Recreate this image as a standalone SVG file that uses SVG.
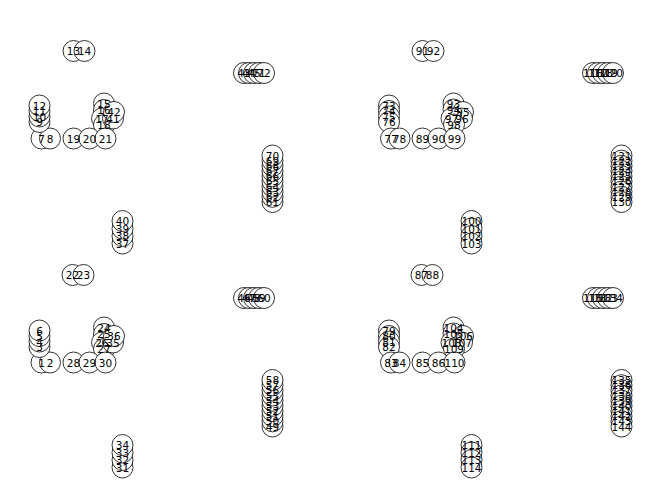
<svg xmlns="http://www.w3.org/2000/svg" width="660" height="499" viewBox="0 0 660 499">
<style>
.node circle{fill:#fff;stroke:#000;stroke-width:0.8}
.lbl text{font-family:"DejaVu Sans",sans-serif;font-size:10.5px;fill:#000;text-anchor:middle;dominant-baseline:central}
</style>
<rect width="660" height="499" fill="#fff"/>
<g id="connectors"/>
<g id="nodes" class="node">
<g id="node-1"><circle cx="41.5" cy="362.5" r="10.5"/></g>
<g id="node-2"><circle cx="50" cy="362.5" r="10.5"/></g>
<g id="node-3"><circle cx="39.5" cy="347" r="10.5"/></g>
<g id="node-4"><circle cx="39.5" cy="341.5" r="10.5"/></g>
<g id="node-5"><circle cx="39.5" cy="336" r="10.5"/></g>
<g id="node-6"><circle cx="39.5" cy="330.5" r="10.5"/></g>
<g id="node-7"><circle cx="41.5" cy="138.5" r="10.5"/></g>
<g id="node-8"><circle cx="50" cy="138.5" r="10.5"/></g>
<g id="node-9"><circle cx="39.5" cy="122" r="10.5"/></g>
<g id="node-10"><circle cx="39.5" cy="116.5" r="10.5"/></g>
<g id="node-11"><circle cx="39.5" cy="111" r="10.5"/></g>
<g id="node-12"><circle cx="39.5" cy="105.5" r="10.5"/></g>
<g id="node-13"><circle cx="73.5" cy="51" r="10.5"/></g>
<g id="node-14"><circle cx="84.5" cy="51" r="10.5"/></g>
<g id="node-15"><circle cx="104" cy="103.5" r="10.5"/></g>
<g id="node-16"><circle cx="104" cy="110" r="10.5"/></g>
<g id="node-17"><circle cx="102" cy="118.5" r="10.5"/></g>
<g id="node-18"><circle cx="104" cy="125" r="10.5"/></g>
<g id="node-19"><circle cx="73.5" cy="138.5" r="10.5"/></g>
<g id="node-20"><circle cx="89.5" cy="138.5" r="10.5"/></g>
<g id="node-21"><circle cx="105.5" cy="138.5" r="10.5"/></g>
<g id="node-22"><circle cx="72.5" cy="275" r="10.5"/></g>
<g id="node-23"><circle cx="83.5" cy="275" r="10.5"/></g>
<g id="node-24"><circle cx="104" cy="327.5" r="10.5"/></g>
<g id="node-25"><circle cx="104" cy="334" r="10.5"/></g>
<g id="node-26"><circle cx="102" cy="342.5" r="10.5"/></g>
<g id="node-27"><circle cx="104" cy="349" r="10.5"/></g>
<g id="node-28"><circle cx="73.5" cy="362.5" r="10.5"/></g>
<g id="node-29"><circle cx="89.5" cy="362.5" r="10.5"/></g>
<g id="node-30"><circle cx="105.5" cy="362.5" r="10.5"/></g>
<g id="node-31"><circle cx="122.5" cy="467.5" r="10.5"/></g>
<g id="node-32"><circle cx="122.5" cy="460" r="10.5"/></g>
<g id="node-33"><circle cx="122.5" cy="452.5" r="10.5"/></g>
<g id="node-34"><circle cx="122.5" cy="445" r="10.5"/></g>
<g id="node-35"><circle cx="113" cy="342.5" r="10.5"/></g>
<g id="node-36"><circle cx="114" cy="336" r="10.5"/></g>
<g id="node-37"><circle cx="122.5" cy="243.5" r="10.5"/></g>
<g id="node-38"><circle cx="122.5" cy="236" r="10.5"/></g>
<g id="node-39"><circle cx="122.5" cy="228.5" r="10.5"/></g>
<g id="node-40"><circle cx="122.5" cy="221" r="10.5"/></g>
<g id="node-41"><circle cx="113" cy="118.5" r="10.5"/></g>
<g id="node-42"><circle cx="114" cy="112" r="10.5"/></g>
<g id="node-43"><circle cx="244" cy="73" r="10.5"/></g>
<g id="node-44"><circle cx="249" cy="73" r="10.5"/></g>
<g id="node-45"><circle cx="254" cy="73" r="10.5"/></g>
<g id="node-46"><circle cx="244" cy="298" r="10.5"/></g>
<g id="node-47"><circle cx="249" cy="298" r="10.5"/></g>
<g id="node-48"><circle cx="254" cy="298" r="10.5"/></g>
<g id="node-49"><circle cx="272.5" cy="426.5" r="10.5"/></g>
<g id="node-50"><circle cx="272.5" cy="421.3" r="10.5"/></g>
<g id="node-51"><circle cx="272.5" cy="416.2" r="10.5"/></g>
<g id="node-52"><circle cx="272.5" cy="411" r="10.5"/></g>
<g id="node-53"><circle cx="272.5" cy="405.8" r="10.5"/></g>
<g id="node-54"><circle cx="272.5" cy="400.7" r="10.5"/></g>
<g id="node-55"><circle cx="272.5" cy="395.5" r="10.5"/></g>
<g id="node-56"><circle cx="272.5" cy="390.3" r="10.5"/></g>
<g id="node-57"><circle cx="272.5" cy="385.2" r="10.5"/></g>
<g id="node-58"><circle cx="272.5" cy="380" r="10.5"/></g>
<g id="node-59"><circle cx="259" cy="298" r="10.5"/></g>
<g id="node-60"><circle cx="264" cy="298" r="10.5"/></g>
<g id="node-61"><circle cx="272.5" cy="202" r="10.5"/></g>
<g id="node-62"><circle cx="272.5" cy="196.8" r="10.5"/></g>
<g id="node-63"><circle cx="272.5" cy="191.7" r="10.5"/></g>
<g id="node-64"><circle cx="272.5" cy="186.5" r="10.5"/></g>
<g id="node-65"><circle cx="272.5" cy="181.3" r="10.5"/></g>
<g id="node-66"><circle cx="272.5" cy="176.2" r="10.5"/></g>
<g id="node-67"><circle cx="272.5" cy="171" r="10.5"/></g>
<g id="node-68"><circle cx="272.5" cy="165.8" r="10.5"/></g>
<g id="node-69"><circle cx="272.5" cy="160.7" r="10.5"/></g>
<g id="node-70"><circle cx="272.5" cy="155.5" r="10.5"/></g>
<g id="node-71"><circle cx="259" cy="73" r="10.5"/></g>
<g id="node-72"><circle cx="264" cy="73" r="10.5"/></g>
<g id="node-73"><circle cx="389" cy="105.5" r="10.5"/></g>
<g id="node-74"><circle cx="389" cy="111" r="10.5"/></g>
<g id="node-75"><circle cx="389" cy="116.5" r="10.5"/></g>
<g id="node-76"><circle cx="389" cy="122" r="10.5"/></g>
<g id="node-77"><circle cx="391" cy="138.5" r="10.5"/></g>
<g id="node-78"><circle cx="399.5" cy="138.5" r="10.5"/></g>
<g id="node-79"><circle cx="389" cy="330.5" r="10.5"/></g>
<g id="node-80"><circle cx="389" cy="336" r="10.5"/></g>
<g id="node-81"><circle cx="389" cy="341.5" r="10.5"/></g>
<g id="node-82"><circle cx="389" cy="347" r="10.5"/></g>
<g id="node-83"><circle cx="391" cy="362.5" r="10.5"/></g>
<g id="node-84"><circle cx="399.5" cy="362.5" r="10.5"/></g>
<g id="node-85"><circle cx="422.5" cy="362.5" r="10.5"/></g>
<g id="node-86"><circle cx="438.5" cy="362.5" r="10.5"/></g>
<g id="node-87"><circle cx="421.5" cy="275" r="10.5"/></g>
<g id="node-88"><circle cx="432.5" cy="275" r="10.5"/></g>
<g id="node-89"><circle cx="422.5" cy="138.5" r="10.5"/></g>
<g id="node-90"><circle cx="438.5" cy="138.5" r="10.5"/></g>
<g id="node-91"><circle cx="422.5" cy="51" r="10.5"/></g>
<g id="node-92"><circle cx="433.5" cy="51" r="10.5"/></g>
<g id="node-93"><circle cx="453.5" cy="103.5" r="10.5"/></g>
<g id="node-94"><circle cx="453.5" cy="109.5" r="10.5"/></g>
<g id="node-95"><circle cx="463" cy="112" r="10.5"/></g>
<g id="node-96"><circle cx="462" cy="118.5" r="10.5"/></g>
<g id="node-97"><circle cx="451.5" cy="118.5" r="10.5"/></g>
<g id="node-98"><circle cx="454" cy="124.5" r="10.5"/></g>
<g id="node-99"><circle cx="454.5" cy="138.5" r="10.5"/></g>
<g id="node-100"><circle cx="471.5" cy="221" r="10.5"/></g>
<g id="node-101"><circle cx="471.5" cy="228.5" r="10.5"/></g>
<g id="node-102"><circle cx="471.5" cy="236" r="10.5"/></g>
<g id="node-103"><circle cx="471.5" cy="243.5" r="10.5"/></g>
<g id="node-104"><circle cx="453.5" cy="327.5" r="10.5"/></g>
<g id="node-105"><circle cx="453.5" cy="333.5" r="10.5"/></g>
<g id="node-106"><circle cx="463" cy="336" r="10.5"/></g>
<g id="node-107"><circle cx="462" cy="342.5" r="10.5"/></g>
<g id="node-108"><circle cx="451.5" cy="342.5" r="10.5"/></g>
<g id="node-109"><circle cx="454" cy="348.5" r="10.5"/></g>
<g id="node-110"><circle cx="454.5" cy="362.5" r="10.5"/></g>
<g id="node-111"><circle cx="471.5" cy="445" r="10.5"/></g>
<g id="node-112"><circle cx="471.5" cy="452.5" r="10.5"/></g>
<g id="node-113"><circle cx="471.5" cy="460" r="10.5"/></g>
<g id="node-114"><circle cx="471.5" cy="467.5" r="10.5"/></g>
<g id="node-115"><circle cx="593" cy="298" r="10.5"/></g>
<g id="node-116"><circle cx="593" cy="73" r="10.5"/></g>
<g id="node-117"><circle cx="598" cy="73" r="10.5"/></g>
<g id="node-118"><circle cx="603" cy="73" r="10.5"/></g>
<g id="node-119"><circle cx="608" cy="73" r="10.5"/></g>
<g id="node-120"><circle cx="613" cy="73" r="10.5"/></g>
<g id="node-121"><circle cx="621.5" cy="155.5" r="10.5"/></g>
<g id="node-122"><circle cx="621.5" cy="160.7" r="10.5"/></g>
<g id="node-123"><circle cx="621.5" cy="165.8" r="10.5"/></g>
<g id="node-124"><circle cx="621.5" cy="171" r="10.5"/></g>
<g id="node-125"><circle cx="621.5" cy="176.2" r="10.5"/></g>
<g id="node-126"><circle cx="621.5" cy="181.3" r="10.5"/></g>
<g id="node-127"><circle cx="621.5" cy="186.5" r="10.5"/></g>
<g id="node-128"><circle cx="621.5" cy="191.7" r="10.5"/></g>
<g id="node-129"><circle cx="621.5" cy="196.8" r="10.5"/></g>
<g id="node-130"><circle cx="621.5" cy="202" r="10.5"/></g>
<g id="node-131"><circle cx="598" cy="298" r="10.5"/></g>
<g id="node-132"><circle cx="603" cy="298" r="10.5"/></g>
<g id="node-133"><circle cx="608" cy="298" r="10.5"/></g>
<g id="node-134"><circle cx="613" cy="298" r="10.5"/></g>
<g id="node-135"><circle cx="621.5" cy="380" r="10.5"/></g>
<g id="node-136"><circle cx="621.5" cy="385.2" r="10.5"/></g>
<g id="node-137"><circle cx="621.5" cy="390.3" r="10.5"/></g>
<g id="node-138"><circle cx="621.5" cy="395.5" r="10.5"/></g>
<g id="node-139"><circle cx="621.5" cy="400.7" r="10.5"/></g>
<g id="node-140"><circle cx="621.5" cy="405.8" r="10.5"/></g>
<g id="node-141"><circle cx="621.5" cy="411" r="10.5"/></g>
<g id="node-142"><circle cx="621.5" cy="416.2" r="10.5"/></g>
<g id="node-143"><circle cx="621.5" cy="421.3" r="10.5"/></g>
<g id="node-144"><circle cx="621.5" cy="426.5" r="10.5"/></g>
</g>
<g id="labels" class="lbl">
<text x="41.5" y="362.5">1</text>
<text x="50" y="362.5">2</text>
<text x="39.5" y="347">3</text>
<text x="39.5" y="341.5">4</text>
<text x="39.5" y="336">5</text>
<text x="39.5" y="330.5">6</text>
<text x="41.5" y="138.5">7</text>
<text x="50" y="138.5">8</text>
<text x="39.5" y="122">9</text>
<text x="39.5" y="116.5">10</text>
<text x="39.5" y="111">11</text>
<text x="39.5" y="105.5">12</text>
<text x="73.5" y="51">13</text>
<text x="84.5" y="51">14</text>
<text x="104" y="103.5">15</text>
<text x="104" y="110">16</text>
<text x="102" y="118.5">17</text>
<text x="104" y="125">18</text>
<text x="73.5" y="138.5">19</text>
<text x="89.5" y="138.5">20</text>
<text x="105.5" y="138.5">21</text>
<text x="72.5" y="275">22</text>
<text x="83.5" y="275">23</text>
<text x="104" y="327.5">24</text>
<text x="104" y="334">25</text>
<text x="102" y="342.5">26</text>
<text x="104" y="349">27</text>
<text x="73.5" y="362.5">28</text>
<text x="89.5" y="362.5">29</text>
<text x="105.5" y="362.5">30</text>
<text x="122.5" y="467.5">31</text>
<text x="122.5" y="460">32</text>
<text x="122.5" y="452.5">33</text>
<text x="122.5" y="445">34</text>
<text x="113" y="342.5">35</text>
<text x="114" y="336">36</text>
<text x="122.5" y="243.5">37</text>
<text x="122.5" y="236">38</text>
<text x="122.5" y="228.5">39</text>
<text x="122.5" y="221">40</text>
<text x="113" y="118.5">41</text>
<text x="114" y="112">42</text>
<text x="244" y="73">43</text>
<text x="249" y="73">44</text>
<text x="254" y="73">45</text>
<text x="244" y="298">46</text>
<text x="249" y="298">47</text>
<text x="254" y="298">48</text>
<text x="272.5" y="426.5">49</text>
<text x="272.5" y="421.3">50</text>
<text x="272.5" y="416.2">51</text>
<text x="272.5" y="411">52</text>
<text x="272.5" y="405.8">53</text>
<text x="272.5" y="400.7">54</text>
<text x="272.5" y="395.5">55</text>
<text x="272.5" y="390.3">56</text>
<text x="272.5" y="385.2">57</text>
<text x="272.5" y="380">58</text>
<text x="259" y="298">59</text>
<text x="264" y="298">60</text>
<text x="272.5" y="202">61</text>
<text x="272.5" y="196.8">62</text>
<text x="272.5" y="191.7">63</text>
<text x="272.5" y="186.5">64</text>
<text x="272.5" y="181.3">65</text>
<text x="272.5" y="176.2">66</text>
<text x="272.5" y="171">67</text>
<text x="272.5" y="165.8">68</text>
<text x="272.5" y="160.7">69</text>
<text x="272.5" y="155.5">70</text>
<text x="259" y="73">71</text>
<text x="264" y="73">72</text>
<text x="389" y="105.5">73</text>
<text x="389" y="111">74</text>
<text x="389" y="116.5">75</text>
<text x="389" y="122">76</text>
<text x="391" y="138.5">77</text>
<text x="399.5" y="138.5">78</text>
<text x="389" y="330.5">79</text>
<text x="389" y="336">80</text>
<text x="389" y="341.5">81</text>
<text x="389" y="347">82</text>
<text x="391" y="362.5">83</text>
<text x="399.5" y="362.5">84</text>
<text x="422.5" y="362.5">85</text>
<text x="438.5" y="362.5">86</text>
<text x="421.5" y="275">87</text>
<text x="432.5" y="275">88</text>
<text x="422.5" y="138.5">89</text>
<text x="438.5" y="138.5">90</text>
<text x="422.5" y="51">91</text>
<text x="433.5" y="51">92</text>
<text x="453.5" y="103.5">93</text>
<text x="453.5" y="109.5">94</text>
<text x="463" y="112">95</text>
<text x="462" y="118.5">96</text>
<text x="451.5" y="118.5">97</text>
<text x="454" y="124.5">98</text>
<text x="454.5" y="138.5">99</text>
<text x="471.5" y="221">100</text>
<text x="471.5" y="228.5">101</text>
<text x="471.5" y="236">102</text>
<text x="471.5" y="243.5">103</text>
<text x="453.5" y="327.5">104</text>
<text x="453.5" y="333.5">105</text>
<text x="463" y="336">106</text>
<text x="462" y="342.5">107</text>
<text x="451.5" y="342.5">108</text>
<text x="454" y="348.5">109</text>
<text x="454.5" y="362.5">110</text>
<text x="471.5" y="445">111</text>
<text x="471.5" y="452.5">112</text>
<text x="471.5" y="460">113</text>
<text x="471.5" y="467.5">114</text>
<text x="593" y="298">115</text>
<text x="593" y="73">116</text>
<text x="598" y="73">117</text>
<text x="603" y="73">118</text>
<text x="608" y="73">119</text>
<text x="613" y="73">120</text>
<text x="621.5" y="155.5">121</text>
<text x="621.5" y="160.7">122</text>
<text x="621.5" y="165.8">123</text>
<text x="621.5" y="171">124</text>
<text x="621.5" y="176.2">125</text>
<text x="621.5" y="181.3">126</text>
<text x="621.5" y="186.5">127</text>
<text x="621.5" y="191.7">128</text>
<text x="621.5" y="196.8">129</text>
<text x="621.5" y="202">130</text>
<text x="598" y="298">131</text>
<text x="603" y="298">132</text>
<text x="608" y="298">133</text>
<text x="613" y="298">134</text>
<text x="621.5" y="380">135</text>
<text x="621.5" y="385.2">136</text>
<text x="621.5" y="390.3">137</text>
<text x="621.5" y="395.5">138</text>
<text x="621.5" y="400.7">139</text>
<text x="621.5" y="405.8">140</text>
<text x="621.5" y="411">141</text>
<text x="621.5" y="416.2">142</text>
<text x="621.5" y="421.3">143</text>
<text x="621.5" y="426.5">144</text>
</g>
</svg>
